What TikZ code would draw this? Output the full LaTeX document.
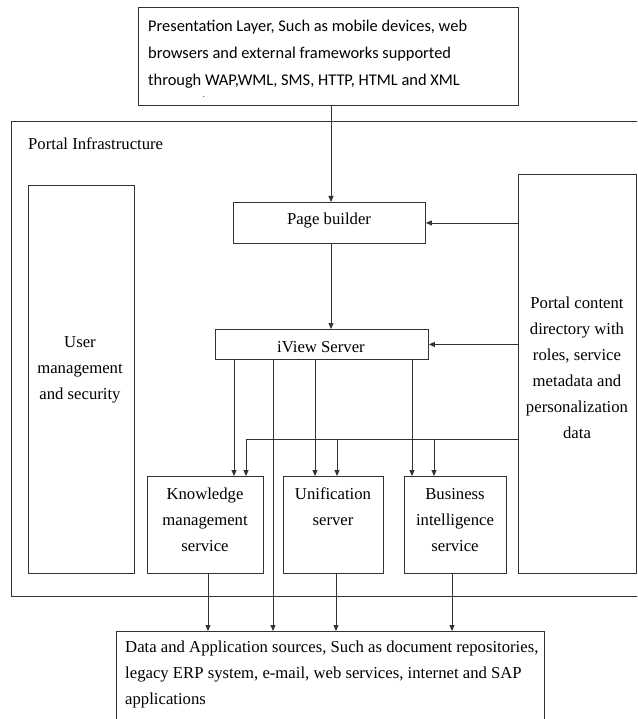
\documentclass[tikz,border=0pt]{standalone}
\usepackage{fontspec}
\setmainfont{Liberation Serif}
\newfontfamily\carlito{Carlito}
\usetikzlibrary{arrows.meta}
\tikzset{
  box/.style={draw=black!80, line width=0.9pt, rectangle, inner sep=0pt, anchor=north west},
  arr/.style={draw=black!80, line width=0.9pt, -{Triangle[length=6pt,width=5pt]}},
  ln/.style={draw=black!80, line width=0.9pt},
  txt/.style={font=\fontsize{16.7}{26}\selectfont, align=center, inner sep=0pt},
  ltxt/.style={font=\fontsize{16.7}{26}\selectfont, align=left, inner sep=0pt, anchor=west},
}
\begin{document}
\begin{tikzpicture}[x=1pt,y=-1pt]
\clip (0,0) rectangle (637,719);
\fill[white] (0,0) rectangle (637,719);
% boxes
\node[box, minimum width=380, minimum height=98] (pres) at (138,7) {};
\node[box, minimum width=640, minimum height=475] (portal) at (11,121) {};
\node[box, minimum width=106, minimum height=388] (user) at (28,185) {};
\node[box, minimum width=118, minimum height=399] (content) at (518,174) {};
\node[box, minimum width=192, minimum height=41] (page) at (233,202) {};
\node[box, minimum width=213, minimum height=30] (iview) at (215,329) {};
\node[box, minimum width=116, minimum height=97] (km) at (147,476) {};
\node[box, minimum width=100, minimum height=97] (uni) at (283,476) {};
\node[box, minimum width=102, minimum height=97] (bi) at (404,476) {};
\node[box, minimum width=428, minimum height=100] (data) at (116,631) {};
% texts
\node[font=\carlito\fontsize{16.4}{27}\selectfont, align=left, inner sep=0pt, anchor=west] (prest) at (148,54)
  {Presentation Layer, Such as mobile devices, web\\browsers and external frameworks supported\\through WAP,WML, SMS, HTTP, HTML and XML};
\node[font=\carlito\fontsize{8}{8}\selectfont, inner sep=0pt] (dot) at (204,97) {.};
\node[ltxt] (portalt) at (28,144) {Portal Infrastructure};
\node[txt] (usert) at (80,370) {User\\management\\and security};
\node[txt] (contentt) at (577,367.5) {Portal content\\directory with\\roles, service\\metadata and\\personalization\\data};
\node[txt] (paget) at (329,221) {Page builder};
\node[txt] (iviewt) at (321,347) {iView Server};
\node[txt] (kmt) at (205,520) {Knowledge\\management\\service};
\node[txt] (unit) at (333,507) {Unification\\server};
\node[txt] (bit) at (455,520) {Business\\intelligence\\service};
\node[ltxt] (datat) at (125,674) {Data and Application sources, Such as document repositories,\\legacy ERP system, e-mail, web services, internet and SAP\\applications};
% helper coordinates
\coordinate (xa) at (331,0);
\coordinate (xk1) at (234,0);
\coordinate (xl) at (273,0);
\coordinate (xu1) at (315,0);
\coordinate (xb1) at (412,0);
\coordinate (xk2) at (246,0);
\coordinate (xu2) at (337,0);
\coordinate (xb2) at (434,0);
\coordinate (xk3) at (208,0);
\coordinate (xu3) at (336,0);
\coordinate (xb3) at (452,0);
\coordinate (ybus) at (0,439);
\coordinate (bus) at (content.west |- ybus);
\coordinate (busk) at (xk2 |- ybus);
% connectors
\draw[arr] (pres.south -| xa) -- (page.north -| xa);
\draw[arr] (page.south -| xa) -- (iview.north -| xa);
\draw[arr] (content.west |- page.east) -- (page.east);
\draw[arr] (content.west |- iview.east) -- (iview.east);
\draw[arr] (iview.south -| xk1) -- (km.north -| xk1);
\draw[arr] (iview.south -| xl) -- (data.north -| xl);
\draw[arr] (iview.south -| xu1) -- (uni.north -| xu1);
\draw[arr] (iview.south -| xb1) -- (bi.north -| xb1);
\draw[ln] (bus) -- (busk);
\draw[arr] (busk) -- (km.north -| xk2);
\draw[arr] (xu2 |- ybus) -- (uni.north -| xu2);
\draw[arr] (xb2 |- ybus) -- (bi.north -| xb2);
\draw[arr] (km.south -| xk3) -- (data.north -| xk3);
\draw[arr] (uni.south -| xu3) -- (data.north -| xu3);
\draw[arr] (bi.south -| xb3) -- (data.north -| xb3);
\end{tikzpicture}
\end{document}
